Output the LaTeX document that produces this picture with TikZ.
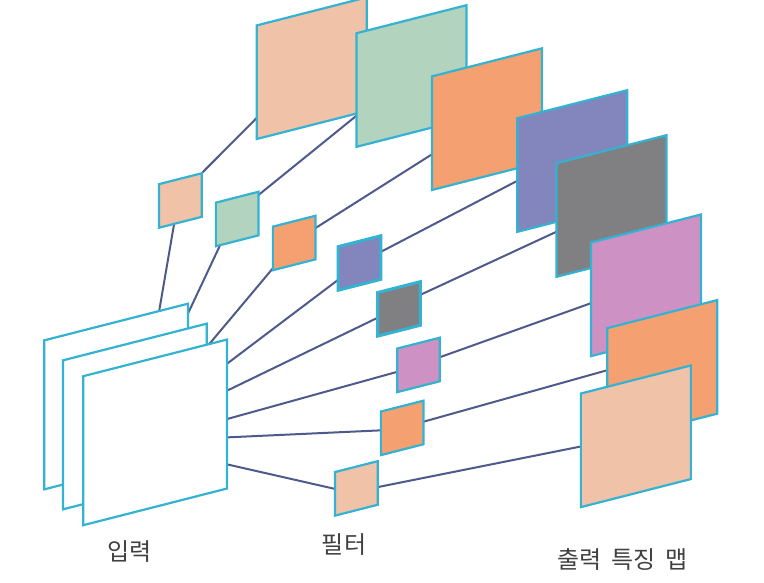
\documentclass[tikz,border=0pt]{standalone}
\usepackage{xcolor,tikz,fontspec}
\usetikzlibrary{backgrounds}
\newfontfamily\cjk[WordSpace=1.9]{Noto Sans CJK KR}
\definecolor{peach}{RGB}{240,195,168}
\definecolor{mint}{RGB}{178,211,190}
\definecolor{orange}{RGB}{245,160,112}
\definecolor{violet}{RGB}{130,134,188}
\definecolor{slate}{RGB}{128,128,131}
\definecolor{pink}{RGB}{205,146,195}
\definecolor{edge}{RGB}{52,178,210}
\definecolor{link}{RGB}{79,90,140}
\definecolor{label}{RGB}{64,64,64}

\begin{document}
\begin{tikzpicture}[x=1pt,y=-1pt,
  panel/.style={draw=edge,line width=2.2pt,yslant=.255,transform shape,outer sep=0pt,inner sep=0pt},
  inmap/.style={panel,fill=white,minimum width=143.7pt,minimum height=149pt},
  filt/.style={panel,minimum width=42.6pt,minimum height=43.6pt},
  outmap/.style={panel,minimum width=110pt,minimum height=113.6pt},
  conn/.style={draw=link,line width=2pt},
  caption/.style={text=label,font=\cjk\fontsize{24}{29}\selectfont}]
\useasboundingbox (0,0) rectangle (764,582);
\node[inmap] (in1) at (116.15,396.5) {};
\node[inmap] (in2) at (134.85,416.5) {};
\node[inmap] (in3) at (155.15,432.35) {};
\node[filt,fill=peach] (f1) at (180.35,200.5) {};
\node[filt,fill=mint] (f2) at (237.15,219) {};
\node[filt,fill=orange] (f3) at (294.15,243) {};
\node[filt,fill=violet,line width=3pt] (f4) at (359.5,263) {};
\node[filt,fill=slate,line width=3pt] (f5) at (399,308.9) {};
\node[filt,fill=pink] (f6) at (418.5,364.9) {};
\node[filt,fill=orange] (f7) at (402.15,427.9) {};
\node[filt,fill=peach] (f8) at (356.35,488.4) {};
\node[outmap,fill=peach] (o1) at (311.7,68.2) {};
\node[outmap,fill=mint] (o2) at (411.5,76) {};
\node[outmap,fill=orange] (o3) at (487,119.15) {};
\node[outmap,fill=violet] (o4) at (572.3,161) {};
\node[outmap,fill=slate] (o5) at (611.5,206) {};
\node[outmap,fill=pink] (o6) at (646,285.3) {};
\node[outmap,fill=orange] (o7) at (662.3,370.9) {};
\node[outmap,fill=peach] (o8) at (635.85,436.3) {};
\node[caption] (inlabel) at (129.5,552) {입력};
\node[caption] (filtlabel) at (344,545) {필터};
\node[caption] (outlabel) at (622.5,559) {출력 특징 맵};
\begin{scope}[on background layer]
\draw[conn] (in1.60.7)--(f1.254);
\draw[conn] (in1.42.7)--(f2.232);
\draw[conn] (in3.54.4)--(f3.223);
\draw[conn] (in3.35.5)--(f4.208.6);
\draw[conn] (in3.18)--(f5.189);
\draw[conn] (in3.-4.5)--(f6.184);
\draw[conn] (in3.-18.3)--(f7.172);
\draw[conn] (in3.-35.2)--(f8.167);
\draw[conn] (f1.north east)--(o1.213.8);
\draw[conn] (f2.41)--(o2.205.7);
\draw[conn] (f3.24)--(o3.201);
\draw[conn] (f4.15.5)--(o4.186);
\draw[conn] (f5.22)--(o5.192);
\draw[conn] (f6.6)--(o6.184);
\draw[conn] (f7.2)--(o7.165.4);
\draw[conn] (f8.-11)--(o8.176);
\end{scope}
\end{tikzpicture}
\end{document}
